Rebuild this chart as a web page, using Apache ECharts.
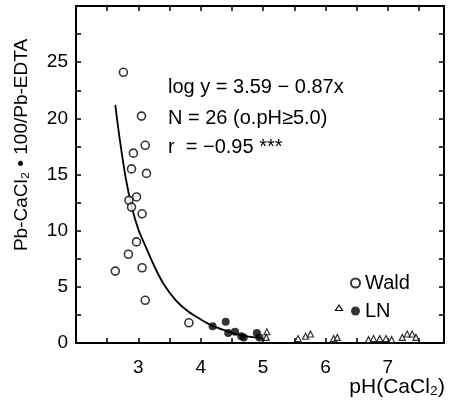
<!DOCTYPE html>
<html><head><meta charset="utf-8">
<script src="https://cdn.jsdelivr.net/npm/echarts@6/dist/echarts.min.js"></script>
<style>html,body{margin:0;padding:0;background:#fff}#c{width:455px;height:406px}</style>
</head><body><div id="c"></div>
<script>
// Wald (open circles)
var waldX = [2.76, 3.05, 3.11, 2.92, 2.89, 3.13, 2.97, 2.85, 2.89, 3.06, 2.97, 2.84, 2.63, 3.06, 3.11, 3.81];
var waldY = [24.1, 20.2, 17.6, 16.9, 15.5, 15.1, 13.0, 12.7, 12.1, 11.5, 9.0, 7.9, 6.4, 6.7, 3.8, 1.8];
// LN (filled circles)
var lnX = [4.19, 4.40, 4.44, 4.55, 4.65, 4.69, 4.90, 4.94];
var lnY = [1.5, 1.9, 0.9, 1.0, 0.6, 0.5, 0.9, 0.5];
// LN (open triangles, pH >= 5.0)
var triX = [5.06, 5.05, 5.56, 5.68, 5.76, 6.13, 6.19, 6.69, 6.77, 6.87, 6.97, 7.06, 7.23, 7.31, 7.39, 7.45];
var triY = [1.0, 0.5, 0.4, 0.6, 0.8, 0.4, 0.5, 0.3, 0.4, 0.4, 0.4, 0.3, 0.5, 0.8, 0.8, 0.5];
// regression curve
var curveX = [2.63, 2.7, 2.8, 2.9, 3.0, 3.1, 3.25, 3.4, 3.6, 3.8, 4.0, 4.2, 4.4, 4.6, 4.8, 4.97];
var curveY = [21.2, 18.2, 14.6, 12.0, 10.1, 8.8, 6.9, 5.3, 3.8, 2.8, 2.1, 1.5, 1.1, 0.75, 0.55, 0.45];
// tick labels
var xTickLabels = [3, 4, 5, 6, 7];
var yTickLabels = [0, 5, 10, 15, 20, 25];
var statLines = ['log y = 3.59 \u2212 0.87x', 'N = 26 (o.pH\u22655.0)', 'r  = \u22120.95 ***'];
var xName = 'pH(CaCl\u2082)';
var yName = 'Pb-CaCl\u2082 \u2022 100/Pb-EDTA';

function zip(a, b) { return a.map(function (v, i) { return [v, b[i]]; }); }

var FONT = 'Liberation Sans';
var chart = echarts.init(document.getElementById('c'), null, {renderer: 'canvas'});
var axisCommon = {
  type: 'value',
  axisLine: {show: true, onZero: false, lineStyle: {color: '#000', width: 2}},
  axisTick: {show: true, inside: true, length: 5, lineStyle: {color: '#000', width: 1.5}},
  splitLine: {show: false}
};
var option = {
  animation: false,
  backgroundColor: '#fff',
  grid: {left: 76, right: 11, top: 6, bottom: 63},
  xAxis: [
    Object.assign({}, axisCommon, {
      min: 2, max: 7.9, interval: 0.5, position: 'bottom',
      axisLabel: {margin: 15, fontSize: 19, fontFamily: FONT, color: '#000',
        showMaxLabel: false,
        formatter: function (v) { return xTickLabels.indexOf(v) >= 0 ? String(v) : ''; }}
    }),
    Object.assign({}, axisCommon, {
      min: 2, max: 7.9, interval: 0.5, position: 'top',
      axisLabel: {show: false}
    })
  ],
  yAxis: [
    Object.assign({}, axisCommon, {
      min: 0, max: 30, interval: 2.5, position: 'left',
      axisLabel: {margin: 8, fontSize: 19, fontFamily: FONT, color: '#000',
        formatter: function (v) { return yTickLabels.indexOf(v) >= 0 ? String(v) : ''; }}
    }),
    Object.assign({}, axisCommon, {
      min: 0, max: 30, interval: 2.5, position: 'right',
      axisLabel: {show: false}
    })
  ],
  legend: {
    orient: 'vertical', left: 350, top: 273, padding: 0, itemWidth: 9, itemHeight: 9, itemGap: 8,
    icon: 'circle',
    textStyle: {fontSize: 20, fontFamily: FONT, color: '#000'},
    data: ['Wald', 'LN']
  },
  series: [
    {name: 'curve', type: 'line', data: zip(curveX, curveY), smooth: 0.3, showSymbol: false,
     lineStyle: {color: '#000', width: 1.8}, z: 1},
    {name: 'Wald', type: 'scatter', data: zip(waldX, waldY), symbol: 'circle', symbolSize: 8,
     itemStyle: {color: '#fff', borderColor: '#000', borderWidth: 1.6}, z: 3},
    {name: 'LN', type: 'scatter', data: zip(lnX, lnY), symbol: 'circle', symbolSize: 8,
     itemStyle: {color: '#000', borderColor: '#000', borderWidth: 0}, z: 3},
    {name: 'LN\u25b3', type: 'scatter', data: zip(triX, triY), symbol: 'triangle', symbolSize: 6,
     itemStyle: {color: '#fff', borderColor: '#000', borderWidth: 1.2}, z: 3}
  ],
  graphic: [
    {type: 'text', x: 168, y: 87, style: {text: statLines[0], font: '20px "' + FONT + '"', fill: '#000', verticalAlign: 'middle'}},
    {type: 'text', x: 168, y: 118, style: {text: statLines[1], font: '20px "' + FONT + '"', fill: '#000', verticalAlign: 'middle'}},
    {type: 'text', x: 168, y: 147, style: {text: statLines[2], font: '20px "' + FONT + '"', fill: '#000', verticalAlign: 'middle'}},
    {type: 'text', x: 445, y: 387, style: {text: xName, font: '21px "' + FONT + '"', fill: '#000', align: 'right', verticalAlign: 'middle'}},
    {type: 'text', x: 22, y: 145, rotation: Math.PI / 2, style: {text: yName, font: '19px "' + FONT + '"', fill: '#000', align: 'center', verticalAlign: 'middle'}},
    {type: 'polygon', shape: {points: [[339, 305], [342.5, 310.5], [335.5, 310.5]]}, style: {fill: '#fff', stroke: '#000', lineWidth: 1.2}}
  ]
};
chart.setOption(option);
</script></body></html>
